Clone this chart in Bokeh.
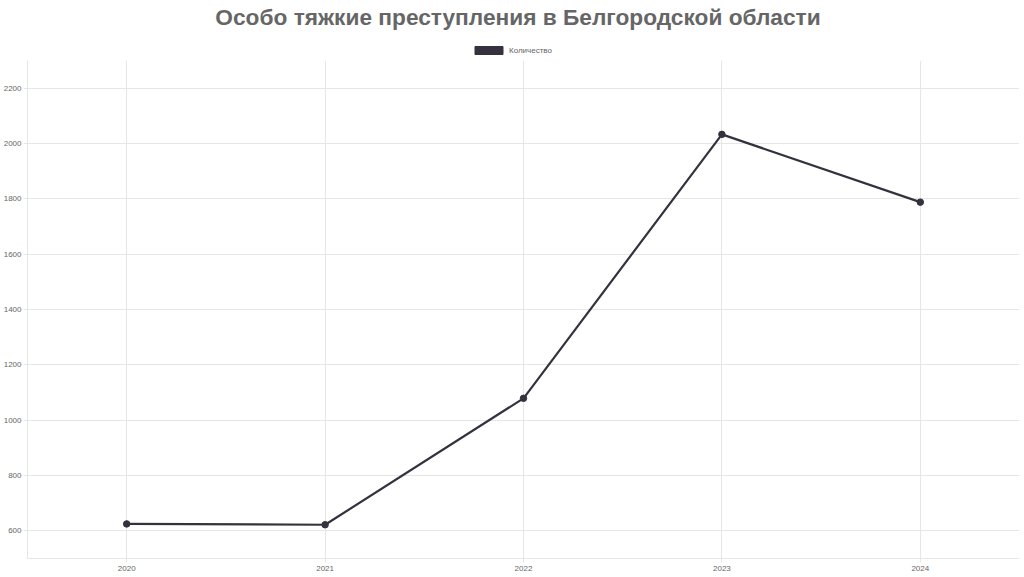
from bokeh.plotting import figure
from bokeh.layouts import column
from bokeh.models import FactorRange, Range1d, SingleIntervalTicker, Legend, LegendItem, ColumnDataSource
from bokeh.embed import file_html
from bokeh.resources import INLINE

years = ["2020", "2021", "2022", "2023", "2024"]
counts = [625, 622, 1079, 2033, 1788]
series_name = "Количество"
title_text = "Особо тяжкие преступления в Белгородской области"

LINE = "#36313f"
GRID = "#e6e6e6"
TXT = "#666666"
FONT = "Liberation Sans"

W = 1008
HEAD_H = 60
FW, FH = 992, 498

src = ColumnDataSource(dict(x=years, y=counts))

# header: title + legend
head = figure(width=W, height=HEAD_H, x_range=FactorRange(factors=years), y_range=Range1d(0, 3000),
              x_axis_location=None, y_axis_location=None, output_backend="svg", toolbar_location=None,
              min_border=0, min_border_top=29)
head.outline_line_color = None
head.grid.visible = False
head.title.text = title_text
head.title.text_font = FONT
head.title.text_font_size = "22.7px"
head.title.text_font_style = "bold"
head.title.text_color = TXT
head.title.align = "center"
head.title.standoff = 0
box = head.vbar(x="x", top="y", width=0.5, source=src, fill_color=LINE, line_color=LINE, visible=False)
legend = Legend(items=[LegendItem(label=series_name, renderers=[box])], orientation="horizontal",
                location=(444, 5), border_line_color=None, background_fill_alpha=0,
                glyph_width=35, glyph_height=10, label_text_font=FONT, label_text_font_size="8px",
                label_text_color=TXT, label_standoff=3, padding=2, margin=0, spacing=0,
                label_height=10, click_policy="none")
head.add_layout(legend, "center")

# main chart
p = figure(frame_width=FW, frame_height=FH, x_range=FactorRange(factors=years, range_padding=0),
           y_range=Range1d(500, 2300), output_backend="svg", toolbar_location=None,
           min_border_left=0, min_border_right=0, min_border_top=0, min_border_bottom=0)
p.outline_line_color = None
p.xgrid.grid_line_color = GRID
p.ygrid.grid_line_color = GRID

for ax in (p.xaxis[0], p.yaxis[0]):
    ax.axis_line_color = GRID
    ax.major_tick_line_color = GRID
    ax.minor_tick_line_color = None
    ax.major_tick_in = 0
    ax.major_tick_out = 4
    ax.major_label_text_font = FONT
    ax.major_label_text_font_size = "8px"
    ax.major_label_text_color = TXT
    ax.major_label_standoff = 2
p.xaxis[0].major_label_standoff = 3

p.yaxis[0].ticker = SingleIntervalTicker(interval=200)

p.line(x="x", y="y", source=src, line_color=LINE, line_width=2.2)
p.scatter(x="x", y="y", source=src, size=6.5, fill_color=LINE, line_color=LINE)

layout = column(head, p, spacing=0)
open("out.html", "w").write(file_html(layout, INLINE))
